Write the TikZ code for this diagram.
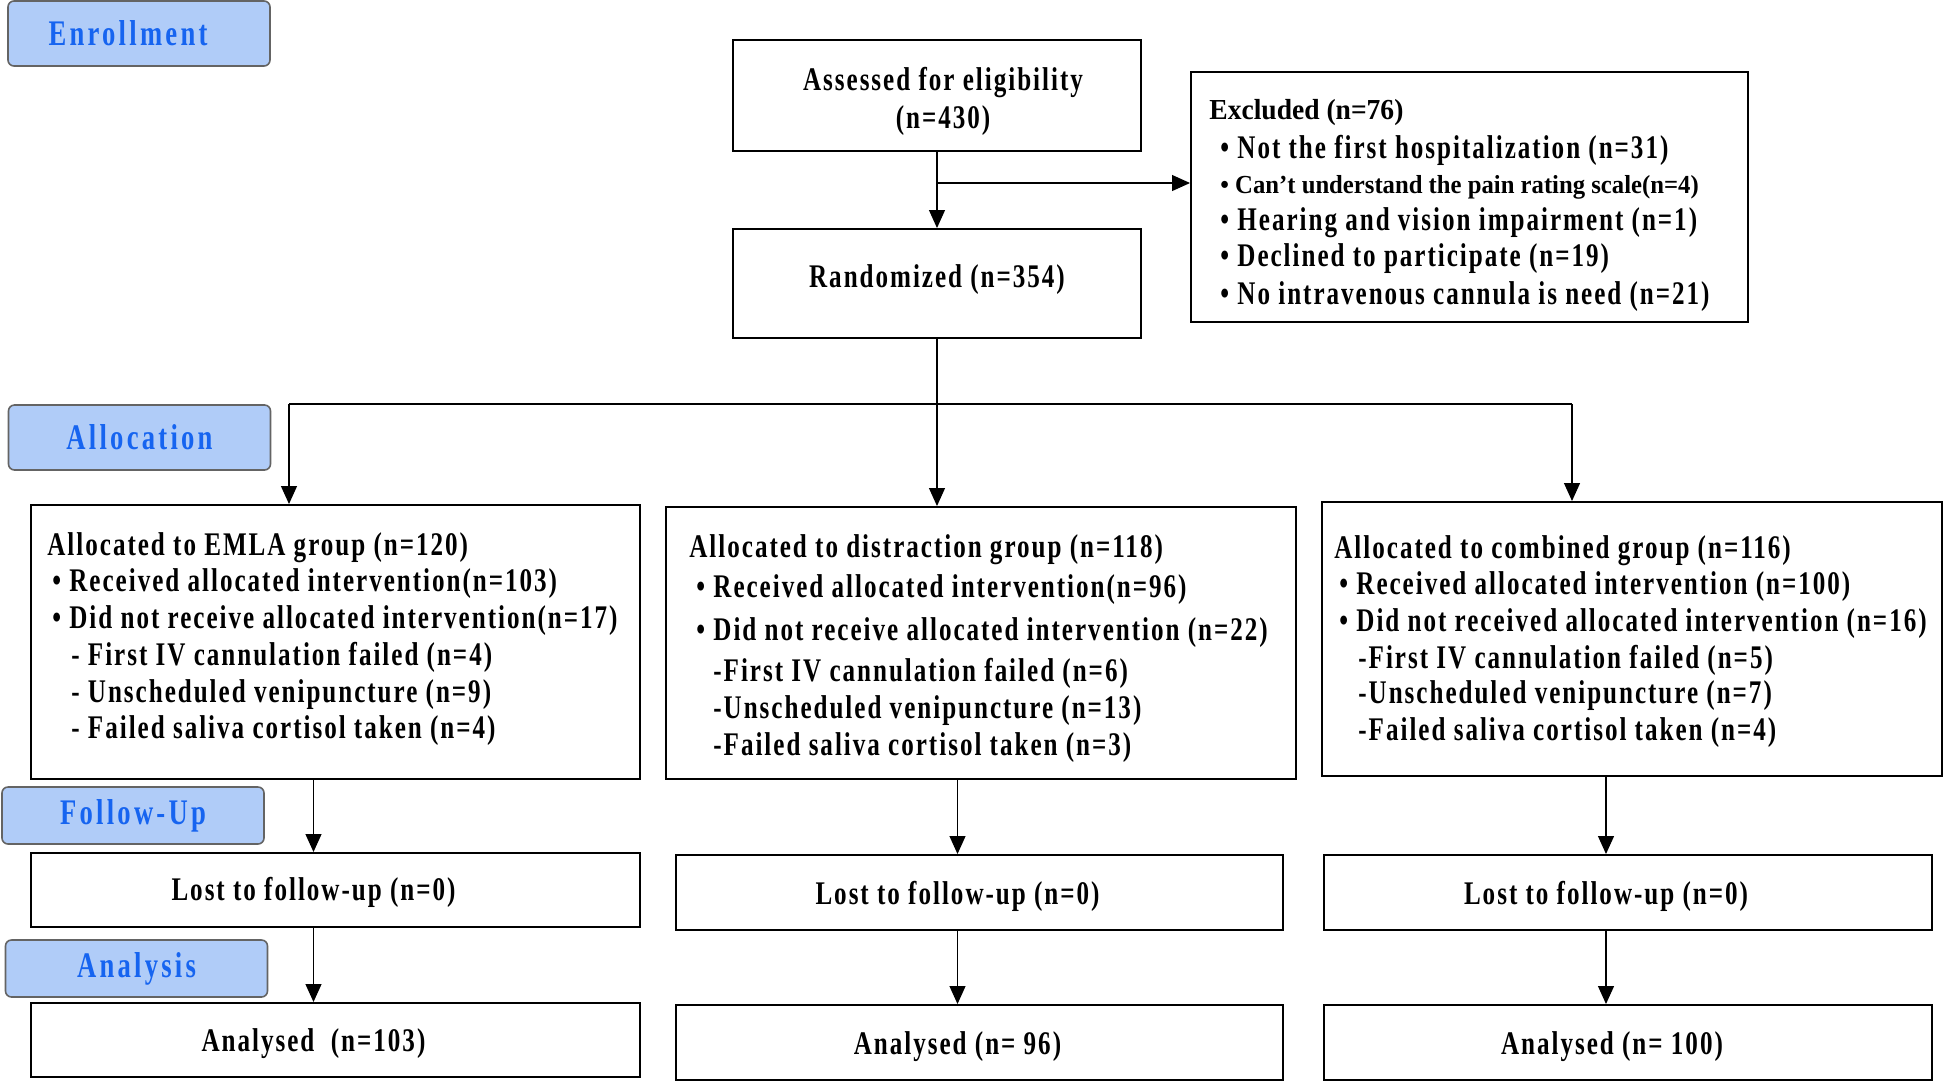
\documentclass[tikz,border=0pt]{standalone}
\usepackage{fontspec}
\setmainfont{Liberation Serif}
\newfontfamily\flowfont{Liberation Serif}[FakeStretch=0.76,LetterSpace=6]
\newfontfamily\stagefont{Liberation Serif}[FakeStretch=0.74,LetterSpace=9]
\newfontfamily\tightfont{Liberation Serif}[FakeStretch=0.95]
\usetikzlibrary{arrows.meta,positioning}
\definecolor{stagefill}{RGB}{176,204,248}
\definecolor{stagetext}{RGB}{22,100,240}
\definecolor{stagedraw}{RGB}{100,100,100}
\begin{document}
\begin{tikzpicture}[x=0.5pt,y=-0.5pt,>={Triangle[length=9pt,width=8pt]},
    box/.style={draw,line width=1pt,inner sep=0pt},
    stage/.style={draw=stagedraw,fill=stagefill,rounded corners=3pt,line width=0.8pt,text=stagetext,
      minimum width=131pt,font=\stagefont\bfseries\fontsize{18}{20}\selectfont},
    txt/.style={inner sep=0pt,yshift=-2pt,font=\flowfont\bfseries\fontsize{16.5}{19}\selectfont},
    line/.style={line width=0.6pt}]
    \useasboundingbox (0,0) rectangle (1944,1084);
    % stage labels
    \node[stage,minimum height=32.5pt] (enroll) at (139,33.5) {\hspace*{-11pt}Enrollment};
    \node[stage,minimum height=32.5pt] (alloc) at (139.5,437.5) {Allocation};
    \node[stage,minimum height=28.5pt] (follow) at (133,815.5) {Follow-Up};
    \node[stage,minimum height=28.5pt] (analysis) at (136.5,968.5) {Analysis};
    % enrollment
    \node[box,minimum width=204pt,minimum height=55.5pt] (assess) at (937,95.5) {};
    \node[txt,align=center] (assesst) at (943,97) {Assessed for eligibility\\(n=430)};
    \node[box,minimum width=204pt,minimum height=54.5pt] (rand) at (937,283.5) {};
    \node[txt] (randt) at (937,276) {Randomized (n=354)};
    \node[box,minimum width=278.5pt,minimum height=125pt] (excl) at (1469.5,197) {};
    \node[txt,anchor=west,font=\tightfont\bfseries\fontsize{14.5}{17}\selectfont] (excl0) at (1209,109) {Excluded (n=76)};
    \node[txt,anchor=west] (excl1) at (1220,146) {\textbullet\ Not the first hospitalization (n=31)};
    \node[txt,anchor=west,font=\tightfont\bfseries\fontsize{13}{16}\selectfont] (excl2) at (1220,183) {\textbullet\ Can’t understand the pain rating scale(n=4)};
    \node[txt,anchor=west] (excl3) at (1220,219) {\textbullet\ Hearing and vision impairment (n=1)};
    \node[txt,anchor=west] (excl4) at (1220,255) {\textbullet\ Declined to participate (n=19)};
    \node[txt,anchor=west] (excl5) at (1220,293) {\textbullet\ No intravenous cannula is need (n=21)};
    % allocation
    \node[box,minimum width=304.5pt,minimum height=137pt] (emla) at (335.5,642) {};
    \node[box,minimum width=315pt,minimum height=136pt] (dist) at (981,643) {};
    \node[box,minimum width=310pt,minimum height=137pt] (comb) at (1632,639) {};
    \foreach \x/\y/\t [count=\i] in {47/544/{Allocated to EMLA group (n=120)},
        52/580/{\textbullet\ Received allocated intervention(n=103)},
        52/617/{\textbullet\ Did not receive allocated intervention(n=17)},
        71/653/{- First IV cannulation failed (n=4)},
        71/691/{- Unscheduled venipuncture (n=9)},
        71/727/{- Failed saliva cortisol taken (n=4)}}
      \node[txt,anchor=west] (emla\i) at (\x,\y) {\t};
    \foreach \x/\y/\t [count=\i] in {689/546/{Allocated to distraction group (n=118)},
        696/586/{\textbullet\ Received allocated intervention(n=96)},
        696/629/{\textbullet\ Did not receive allocated intervention (n=22)},
        713/669/{-First IV cannulation failed (n=6)},
        713/707/{-Unscheduled venipuncture (n=13)},
        713/744/{-Failed saliva cortisol taken (n=3)}}
      \node[txt,anchor=west] (dist\i) at (\x,\y) {\t};
    \foreach \x/\y/\t [count=\i] in {1334/547/{Allocated to combined group (n=116)},
        1339/583/{\textbullet\ Received allocated intervention (n=100)},
        1339/620/{\textbullet\ Did not received allocated intervention (n=16)},
        1358/656/{-First IV cannulation failed (n=5)},
        1358/692/{-Unscheduled venipuncture (n=7)},
        1358/729/{-Failed saliva cortisol taken (n=4)}}
      \node[txt,anchor=west] (comb\i) at (\x,\y) {\t};
    % follow-up and analysis
    \node[box,minimum width=304.5pt,minimum height=37pt] (lost1) at (335.5,890) {};
    \node[box,minimum width=303.5pt,minimum height=37.5pt] (lost2) at (979.5,892.5) {};
    \node[box,minimum width=304pt,minimum height=37.5pt] (lost3) at (1628,892.5) {};
    \node[box,minimum width=304.5pt,minimum height=37pt] (ana1) at (335.5,1040) {};
    \node[box,minimum width=303.5pt,minimum height=37.5pt] (ana2) at (979.5,1042.5) {};
    \node[box,minimum width=304pt,minimum height=37.5pt] (ana3) at (1628,1042.5) {};
    \node[txt] (lost1t) at ([xshift=-11pt,yshift=1pt]lost1.center) {Lost to follow-up (n=0)};
    \node[txt] (lost2t) at ([xshift=-11pt]lost2.center) {Lost to follow-up (n=0)};
    \node[txt] (lost3t) at ([xshift=-11pt]lost3.center) {Lost to follow-up (n=0)};
    \node[txt] (ana1t) at ([xshift=-11pt]ana1.center) {Analysed~~(n=103)};
    \node[txt] (ana2t) at ([xshift=-11pt]ana2.center) {Analysed (n= 96)};
    \node[txt] (ana3t) at ([xshift=-8pt]ana3.center) {Analysed (n= 100)};
    % connectors
    \coordinate (split) at (937,183);
    \coordinate (hubL) at (289,404);
    \coordinate (hubR) at (1572,404);
    \draw[line,->] (assess) -- (rand);
    \draw[line,->] (split) -- (split -| excl.west);
    \draw[line] (rand.south) -- (rand.south |- hubL);
    \draw[line] (hubL) -- (hubR);
    \draw[line,->] (hubL) -- (hubL |- emla.north);
    \draw[line,->] (rand.south |- hubL) -- (rand.south |- dist.north);
    \draw[line,->] (hubR) -- (hubR |- comb.north);
    \foreach \a/\b in {emla/lost1,dist/lost2,comb/lost3,lost1/ana1,lost2/ana2,lost3/ana3}
      \draw[line,->] ([xshift=-11pt]\b.north |- \a.south) -- ([xshift=-11pt]\b.north);
\end{tikzpicture}
\end{document}
